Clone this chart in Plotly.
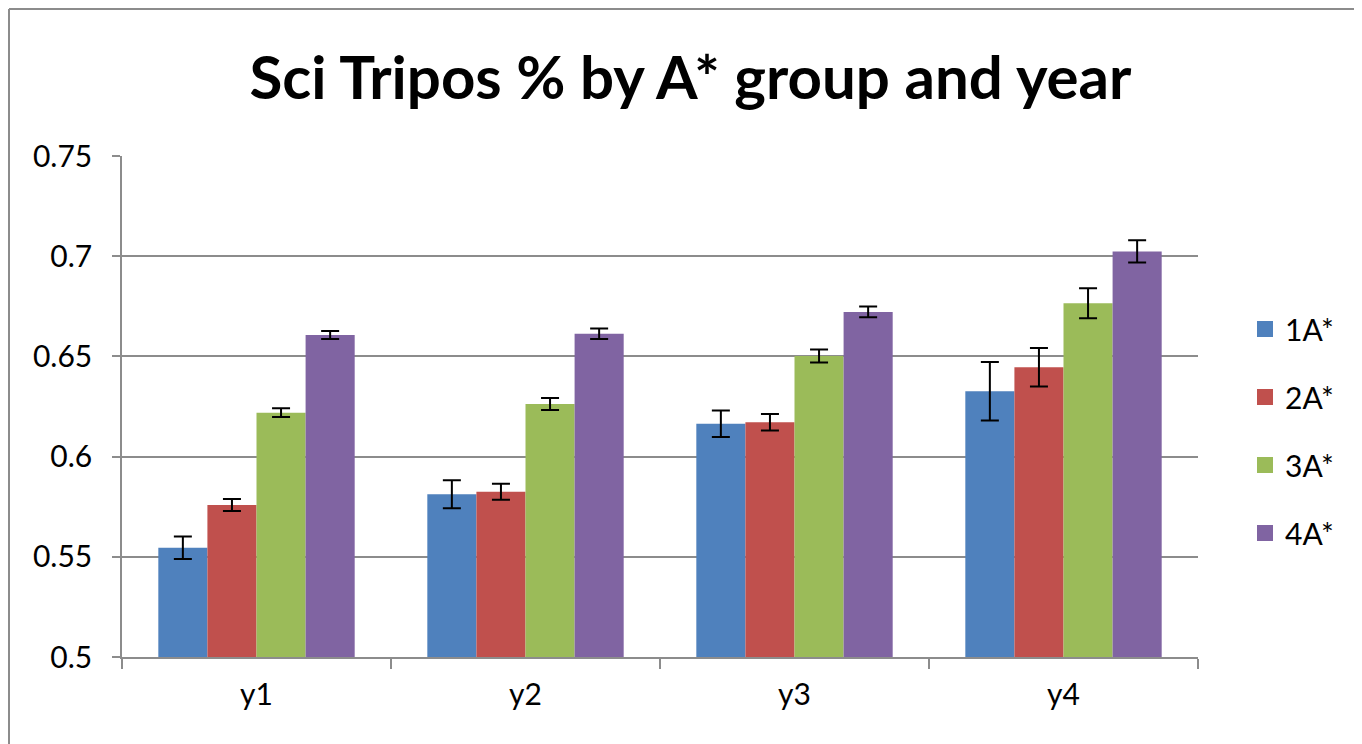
import plotly.graph_objects as go

categories = ["y1", "y2", "y3", "y4"]
series_names = ["1A*", "2A*", "3A*", "4A*"]
values = {
    "1A*": [0.5545, 0.5812, 0.6164, 0.6326],
    "2A*": [0.5758, 0.5825, 0.6171, 0.6446],
    "3A*": [0.6219, 0.6262, 0.6502, 0.6765],
    "4A*": [0.6607, 0.6613, 0.6722, 0.7024],
}
errors = {
    "1A*": [0.0056, 0.0070, 0.0066, 0.0146],
    "2A*": [0.0030, 0.0040, 0.0041, 0.0096],
    "3A*": [0.0022, 0.0030, 0.0032, 0.0075],
    "4A*": [0.0020, 0.0026, 0.0027, 0.0056],
}
colors = ["#4F81BD", "#C0504D", "#9BBB59", "#8064A2"]
y_ticks = [0.5, 0.55, 0.6, 0.65, 0.7, 0.75]
y_tick_text = ["0.5", "0.55", "0.6", "0.65", "0.7", "0.75"]

FONT = "Lato"
W, H = 1354, 736
L, T, R, B = 114, 148, 164, 87
PW = W - L - R
PH = H - T - B

fig = go.Figure()
for i, name in enumerate(series_names):
    fig.add_trace(go.Bar(
        x=categories, y=values[name], name=name,
        marker=dict(color=colors[i], line=dict(width=0)),
        error_y=dict(type="data", array=errors[name], visible=True,
                     color="black", thickness=2, width=9),
        showlegend=False,
    ))
for i, name in enumerate(series_names):
    fig.add_trace(go.Scatter(
        x=[None], y=[None], mode="markers", name=name,
        marker=dict(symbol="square", size=21, color=colors[i]),
        legendgroup=name, showlegend=True,
    ))

fig.update_layout(
    width=W, height=H,
    paper_bgcolor="white", plot_bgcolor="white",
    margin=dict(l=L, r=R, t=T, b=B),
    barmode="group", bargap=0.27, bargroupgap=0,
    title=dict(text="<b>Sci Tripos % by A* group and year</b>",
               x=682.5 / W, xanchor="center",
               y=1 - 70 / H, yanchor="middle",
               font=dict(family=FONT, size=60, color="black")),
    font=dict(family=FONT, size=30, color="black"),
    legend=dict(x=(1237 - L) / PW, xanchor="left",
                y=(H - B - 295) / PH, yanchor="top",
                font=dict(family=FONT, size=30, color="black"),
                tracegroupgap=26, traceorder="grouped",
                bgcolor="rgba(0,0,0,0)"),
    showlegend=True,
)
fig.update_xaxes(
    showline=True, linecolor="#8c8c8c", linewidth=1.5,
    ticks="outside", tickson="boundaries", ticklen=10, tickcolor="#8c8c8c", tickwidth=1.5,
    showgrid=False, tickfont=dict(family=FONT, size=30, color="black"),
    ticklabelstandoff=10,
)
fig.update_yaxes(
    range=[0.5, 0.75], tickvals=y_ticks, ticktext=y_tick_text,
    showline=True, linecolor="#8c8c8c", linewidth=1.5,
    ticks="outside", ticklen=8, tickcolor="#8c8c8c", tickwidth=1.5,
    showgrid=True, gridcolor="#8c8c8c", gridwidth=1.5,
    tickfont=dict(family=FONT, size=30, color="black"),
    ticklabelstandoff=14, zeroline=False,
)
bx = (1 - L) / PW
by = (H - B - 1) / PH
fig.add_shape(type="line", xref="paper", yref="paper",
              x0=bx, x1=bx, y0=-0.3, y1=by,
              line=dict(color="#8c8c8c", width=2), layer="below")
fig.add_shape(type="line", xref="paper", yref="paper",
              x0=bx, x1=1.3, y0=by, y1=by,
              line=dict(color="#8c8c8c", width=2), layer="below")
fig.write_html("out.html")
